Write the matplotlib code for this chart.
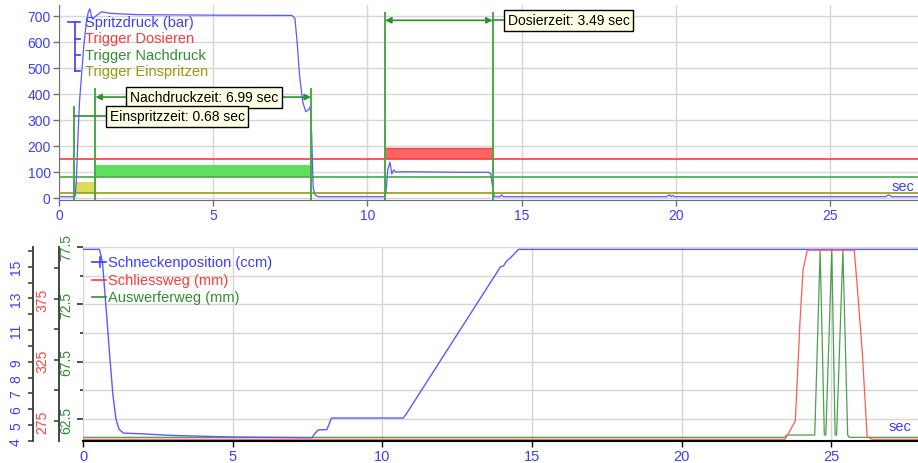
import matplotlib
matplotlib.use('Agg')
import matplotlib.pyplot as plt
from matplotlib.lines import Line2D
from matplotlib.ticker import FixedLocator, FuncFormatter

plt.rcParams['font.family'] = ['Liberation Sans', 'DejaVu Sans']

# --- top chart: injection pressure and trigger signals ---
druck_t = [0, 0.45, 0.52, 0.56, 0.62, 0.67, 0.73, 0.80, 0.88, 0.95, 1.00, 1.05, 1.10,
           1.20, 1.38, 1.65, 2.5, 5.0, 7.55, 7.65, 7.72, 7.80, 7.90, 8.00, 8.10, 8.15,
           8.19, 8.24, 8.30, 8.40, 10.55, 10.60, 10.66, 10.73, 10.79, 10.85, 10.92, 11.2,
           13.0, 13.94, 14.00, 14.06, 14.12, 14.30, 14.35, 14.40, 19.7, 19.8, 19.85, 19.9,
           19.95, 20.0, 26.8, 26.9, 27.0, 27.85]
druck_v = [5, 5, 5, 60, 250, 380, 470, 580, 670, 715, 727, 700, 688,
           700, 716, 710, 705, 703, 702, 690, 600, 470, 370, 332, 340, 352,
           250, 40, 12, 5, 5, 20, 110, 138, 92, 108, 100, 101,
           99, 99, 92, 40, 5, 5, 12, 5, 5, 12, 5, 10,
           5, 5, 5, 12, 5, 5]

trig_einspritzen = 18
trig_nachdruck = 81
trig_dosieren = 149

einspritz_start, nachdruck_start, nachdruck_end = 0.50, 1.18, 8.17
dosier_start, dosier_end = 10.57, 14.06
einspritz_top, nachdruck_top, dosier_top = 61, 128, 191

top_legend = ['Spritzdruck (bar)', 'Trigger Dosieren', 'Trigger Nachdruck', 'Trigger Einspritzen']
label_einspritz = 'Einspritzzeit: 0.68 sec'
label_nachdruck = 'Nachdruckzeit: 6.99 sec'
label_dosier = 'Dosierzeit: 3.49 sec'

# --- bottom chart: screw position, clamp and ejector stroke ---
schnecke_t = [0, 0.55, 0.65, 0.80, 0.90, 1.00, 1.10, 1.20, 1.35, 2.0, 3.0, 5.0, 7.65,
              7.72, 7.85, 8.15, 8.30, 10.70, 10.80, 13.95, 14.05, 14.15, 14.30, 14.55, 27.9]
schnecke_v = [16.1, 16.1, 15.3, 11.7, 9.2, 6.9, 5.4, 4.75, 4.5, 4.45, 4.35, 4.25, 4.2,
              4.4, 4.7, 4.72, 5.45, 5.45, 5.7, 15.0, 15.05, 15.35, 15.6, 16.1, 16.1]

schliess_t = [0, 23.46, 23.80, 23.96, 24.06, 24.20, 25.77, 25.87, 26.04, 26.20, 26.37, 27.9]
schliess_v = [260, 260, 275, 358, 399, 415, 415, 385, 331, 262, 260, 260]

auswerfer_t = [0, 23.45, 23.5, 24.45, 24.63, 24.77, 24.82, 25.02, 25.13, 25.18, 25.39,
               25.55, 25.6, 27.9]
auswerfer_v = [60.9, 60.9, 61.1, 61.1, 77.2, 61.1, 61.1, 77.2, 61.1, 61.1, 77.2,
               61.1, 60.9, 60.9]

bottom_legend = ['Schneckenposition (ccm)', 'Schliessweg (mm)', 'Auswerferweg (mm)']

BLUE = '#3d3dff'
LBLUE = '#5a5aff'
RED = '#ff3a3a'
GREEN = '#2f8f2f'
VGREEN = '#4aa84a'
OLIVE = '#9a9a10'

W, H = 918, 464
PT = 0.72  # points per pixel at dpi 100


def box(l, t, r, b):
    return [l / W, 1 - b / H, (r - l) / W, (b - t) / H]


def fx(x):
    return x / W


def fy(y):
    return 1 - y / H


fig = plt.figure(figsize=(W / 100, H / 100), dpi=100)

# ================= top chart =================
ax1 = fig.add_axes(box(59, 6, 918, 201))
ax1.set_xlim(0, 27.85)
ax1.set_ylim(-7.7, 742)
ax1.set_xticks(range(0, 26, 5))
ax1.set_yticks(range(0, 701, 100))
ax1.grid(color='#d6d6d6', lw=1, zorder=0)
ax1.set_axisbelow(True)
for s in ['top', 'right']:
    ax1.spines[s].set_visible(False)
for s in ['left', 'bottom']:
    ax1.spines[s].set_color('#707070')
ax1.tick_params(axis='both', colors='#707070', labelcolor=BLUE, labelsize=10, length=4, width=1)
ax1.tick_params(axis='y', pad=2)
ax1.tick_params(axis='x', pad=2)

ax1.fill_between([einspritz_start, nachdruck_start], trig_einspritzen, einspritz_top,
                 color='#dcdc5c', lw=0, zorder=2)
ax1.fill_between([nachdruck_start, nachdruck_end], trig_nachdruck, nachdruck_top,
                 color='#5ee05e', lw=0, zorder=2)
ax1.fill_between([dosier_start, dosier_end], trig_dosieren, dosier_top,
                 color='#ff6464', lw=0, zorder=2)
ax1.plot([dosier_start, dosier_end], [dosier_top, dosier_top], color='#ee4444', lw=1, zorder=2)

ax1.axhline(trig_dosieren, color=RED, lw=1.2, zorder=3)
ax1.axhline(trig_nachdruck, color=VGREEN, lw=1.2, zorder=3)
ax1.axhline(trig_einspritzen, color=OLIVE, lw=1.2, zorder=3)

ax1.plot(druck_t, druck_v, color=LBLUE, lw=0.9, zorder=4)

# phase markers
ax1.plot([einspritz_start] * 2, [-7.7, 348], color=VGREEN, lw=1.4, zorder=5)
ax1.plot([nachdruck_start] * 2, [-7.7, 420], color=VGREEN, lw=1.4, zorder=5)
ax1.plot([nachdruck_end] * 2, [-7.7, 420], color=VGREEN, lw=1.4, zorder=5)
ax1.plot([dosier_start] * 2, [-7.7, 712], color=VGREEN, lw=1.4, zorder=5)
ax1.plot([dosier_end] * 2, [-7.7, 712], color=VGREEN, lw=1.4, zorder=5)

arrow = dict(arrowstyle='<|-|>', color=GREEN, lw=1.2, shrinkA=0, shrinkB=0, mutation_scale=9)
ax1.annotate('', xy=(nachdruck_start, 388), xytext=(nachdruck_end, 388), arrowprops=arrow, zorder=6)
ax1.annotate('', xy=(dosier_start, 683), xytext=(dosier_end, 683), arrowprops=arrow, zorder=6)
ax1.plot([einspritz_start, 1.5], [315, 315], color=GREEN, lw=1.2, zorder=6)
ax1.plot([dosier_end, 14.4], [683, 683], color=GREEN, lw=1.2, zorder=6)

bbox = dict(boxstyle='square,pad=0.25', fc='#ffffe4', ec='black', lw=1)
ax1.text(4.70, 388, label_nachdruck, ha='center', va='center', fontsize=10, bbox=bbox, zorder=7)
ax1.text(3.83, 315, label_einspritz, ha='center', va='center', fontsize=10, bbox=bbox, zorder=7)
ax1.text(16.52, 683, label_dosier, ha='center', va='center', fontsize=10, bbox=bbox, zorder=7)

fig.text(fx(892), fy(187), 'sec', color=BLUE, fontsize=10.5, ha='left', va='center')

# legend with bracket
top_colors = [BLUE, RED, GREEN, OLIVE]
rows = [23, 39.5, 56, 72]
for name, c, y in zip(top_legend, top_colors, rows):
    fig.text(fx(85), fy(y), name, color=c, fontsize=10.5, ha='left', va='center')
fig.add_artist(Line2D([fx(74.5), fx(74.5)], [fy(rows[0]), fy(rows[-1])], color=BLUE, lw=1.2))
fig.add_artist(Line2D([fx(67.5), fx(80)], [fy(rows[0]), fy(rows[0])], color=BLUE, lw=1.2))
for y in rows[1:]:
    fig.add_artist(Line2D([fx(74.5), fx(80)], [fy(y), fy(y)], color=BLUE, lw=1.2))

# ================= bottom chart =================
ax_g = fig.add_axes(box(83, 248, 918, 442))
ax_g.set_xlim(0, 27.9)
ax_g.set_ylim(60.58, 77.5)
ax_g.set_xticks(range(0, 26, 5))
ax_g.yaxis.set_major_locator(FixedLocator([62.5, 67.5, 72.5, 77.5]))
ax_g.yaxis.set_minor_locator(FixedLocator([65, 70, 75]))
ax_g.grid(which='both', color='#d6d6d6', lw=1)
ax_g.set_axisbelow(True)
for s in ['top', 'right', 'left']:
    ax_g.spines[s].set_visible(False)
ax_g.spines['bottom'].set_color('black')
ax_g.spines['bottom'].set_linewidth(1.5)
ax_g.tick_params(axis='x', colors='black', labelcolor=BLUE, labelsize=10.5, length=4, width=1, pad=1.5)
ax_g.tick_params(axis='y', which='major', colors='#333333', labelcolor=GREEN, labelsize=10,
                 length=6 * PT, width=1.2, pad=4 * PT, labelrotation=90)
ax_g.tick_params(axis='y', which='minor', colors='#333333', length=3 * PT, width=1.2)
for lab in ax_g.get_yticklabels():
    lab.set_va('center')

ax_b = ax_g.twinx()
ax_b.set_ylim(4.0, 16.25)
ax_r = ax_g.twinx()
ax_r.set_ylim(258.6, 417.6)

shown = {4, 5, 6, 7, 8, 9, 11, 13, 15}
ax_b.yaxis.set_major_locator(FixedLocator(range(4, 17)))
ax_b.yaxis.set_major_formatter(FuncFormatter(lambda v, p: str(int(round(v))) if int(round(v)) in shown else ''))
ax_r.yaxis.set_major_locator(FixedLocator([275, 325, 375]))
ax_r.yaxis.set_minor_locator(FixedLocator([300, 350, 400]))

# spine offsets given in pixels, outward() wants points
for a, off_px, c in [(ax_b, 50, BLUE), (ax_r, 24, '#ff4040')]:
    for s in ['top', 'right', 'bottom']:
        a.spines[s].set_visible(False)
    a.spines['left'].set_visible(True)
    a.spines['left'].set_position(('outward', off_px * PT))
    a.spines['left'].set_color('#444444')
    a.spines['left'].set_linewidth(1.4)
    a.yaxis.set_ticks_position('left')
    a.tick_params(axis='y', which='both', colors='#444444', labelcolor=c, labelsize=10,
                  length=5 * PT, width=1.2, pad=5 * PT, labelrotation=90)
    for lab in a.get_yticklabels():
        lab.set_va('center')

ax_g.plot(auswerfer_t, auswerfer_v, color=GREEN, lw=0.9, alpha=0.85)
ax_b.plot(schnecke_t, schnecke_v, color=LBLUE, lw=1.0)
ax_r.plot(schliess_t, schliess_v, color='#ff5a5a', lw=0.9)

fig.text(fx(889), fy(427), 'sec', color=BLUE, fontsize=10.5, ha='left', va='center')

bot_colors = [BLUE, RED, GREEN]
rows_b = [263, 280.5, 298]
for name, c, y in zip(bottom_legend, bot_colors, rows_b):
    fig.add_artist(Line2D([fx(92), fx(106)], [fy(y), fy(y)], color=c, lw=1.2))
    fig.text(fx(108), fy(y), name, color=c, fontsize=10.5, ha='left', va='center')
fig.add_artist(Line2D([fx(100), fx(100)], [fy(rows_b[0] - 5), fy(rows_b[0] + 5)], color=BLUE, lw=1.2))

fig.savefig('out.png', dpi=100)
